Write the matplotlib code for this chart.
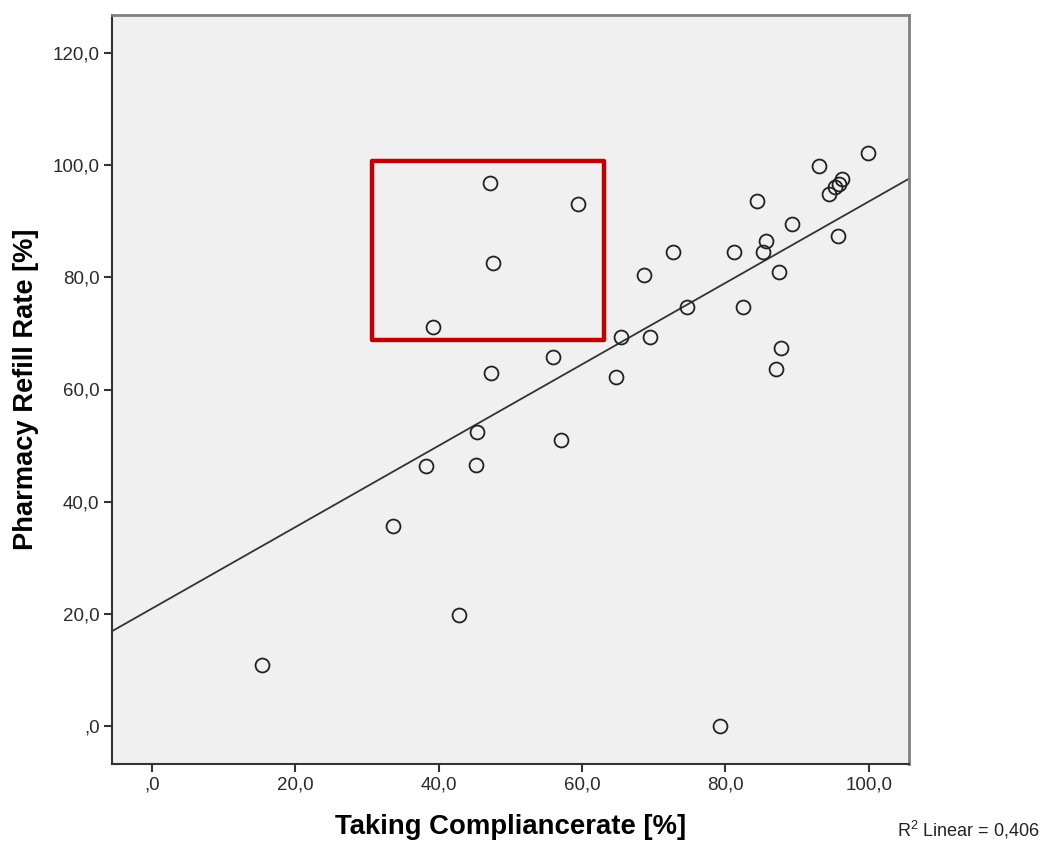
import numpy as np
import matplotlib
matplotlib.use("Agg")
import matplotlib.pyplot as plt
import matplotlib.patches as mpatches

plt.rcParams["font.family"] = ["Liberation Sans", "DejaVu Sans"]
plt.rcParams["mathtext.fontset"] = "custom"
plt.rcParams["mathtext.rm"] = "Liberation Sans"
plt.rcParams["mathtext.it"] = "Liberation Sans"

# taking compliance rate vs. pharmacy refill rate, one entry per patient
compliance = [15.3, 33.6, 38.2, 39.2, 42.9, 45.2, 45.4, 47.3, 47.2, 47.6,
              59.5, 55.9, 57.1, 64.7, 65.5, 69.5, 68.6, 72.7, 74.6, 79.3,
              84.4, 89.3, 85.6, 81.2, 85.3, 95.7, 87.5, 82.4, 87.8, 87.0,
              99.9, 93.1, 96.2, 95.9, 95.3, 94.5]
refill = [11.0, 35.7, 46.3, 71.2, 19.9, 46.6, 52.4, 62.9, 96.8, 82.6,
          93.1, 65.8, 51.0, 62.3, 69.3, 69.3, 80.4, 84.5, 74.7, 0.0,
          93.5, 89.5, 86.5, 84.5, 84.5, 87.4, 81.0, 74.7, 67.4, 63.7,
          102.1, 99.8, 97.5, 96.6, 96.0, 94.9]

x_ticks = [0, 20, 40, 60, 80, 100]
y_ticks = [0, 20, 40, 60, 80, 100, 120]
r2_label = "0,406"

# highlighted group (upper left)
box_x = (30.7, 63.1)
box_y = (68.9, 100.7)


def fmt(v):
    s = f"{v:.1f}".replace(".", ",")
    return s[1:] if s.startswith("0,") else s


fig = plt.figure(figsize=(10.45, 8.42), dpi=100)
ax = fig.add_axes([112 / 1045, 78 / 842, 797 / 1045, 749 / 842])
ax.set_facecolor("#f0f0f0")

ax.set_xlim(-5.55, 105.6)
ax.set_ylim(-6.7, 126.7)

# least squares fit line across the full x range
x = np.array(compliance)
y = np.array(refill)
slope, intercept = np.polyfit(x, y, 1)
xl = np.array(ax.get_xlim())
ax.plot(xl, intercept + slope * xl, color="#333333", lw=1.3, zorder=2)

ax.plot(x, y, "o", ms=10, mfc="none", mec="#222222", mew=1.3, zorder=3,
        clip_on=False)

rect = mpatches.Rectangle((box_x[0], box_y[0]), box_x[1] - box_x[0],
                          box_y[1] - box_y[0], fill=False, ec="#c00000",
                          lw=3.2, joinstyle="round", zorder=4)
ax.add_patch(rect)

ax.set_xticks(x_ticks)
ax.set_xticklabels([fmt(v) for v in x_ticks])
ax.set_yticks(y_ticks)
ax.set_yticklabels([fmt(v) for v in y_ticks])
ax.tick_params(length=6, width=1.5, color="#333333", labelsize=13.5,
               labelcolor="#2a2a2a", pad=3)

for side in ["left", "bottom"]:
    ax.spines[side].set_color("#333333")
    ax.spines[side].set_linewidth(1.5)
for side in ["top", "right"]:
    ax.spines[side].set_color("#808080")
    ax.spines[side].set_linewidth(2)

ax.set_xlabel("Taking Compliancerate [%]", fontsize=19.8, fontweight="bold",
              va="center")
ax.xaxis.set_label_coords(0.5, (764 - 827) / 749)
ax.set_ylabel("Pharmacy Refill Rate [%]", fontsize=19.6, fontweight="bold",
              va="center")
ax.yaxis.set_label_coords((26 - 112) / 797, 0.5)

fig.text(1040 / 1045, 1 - 830 / 842, r"R$^{2}$ Linear = " + r2_label,
         ha="right", va="center", fontsize=13, color="#222222")

fig.savefig("out.png", dpi=100)
